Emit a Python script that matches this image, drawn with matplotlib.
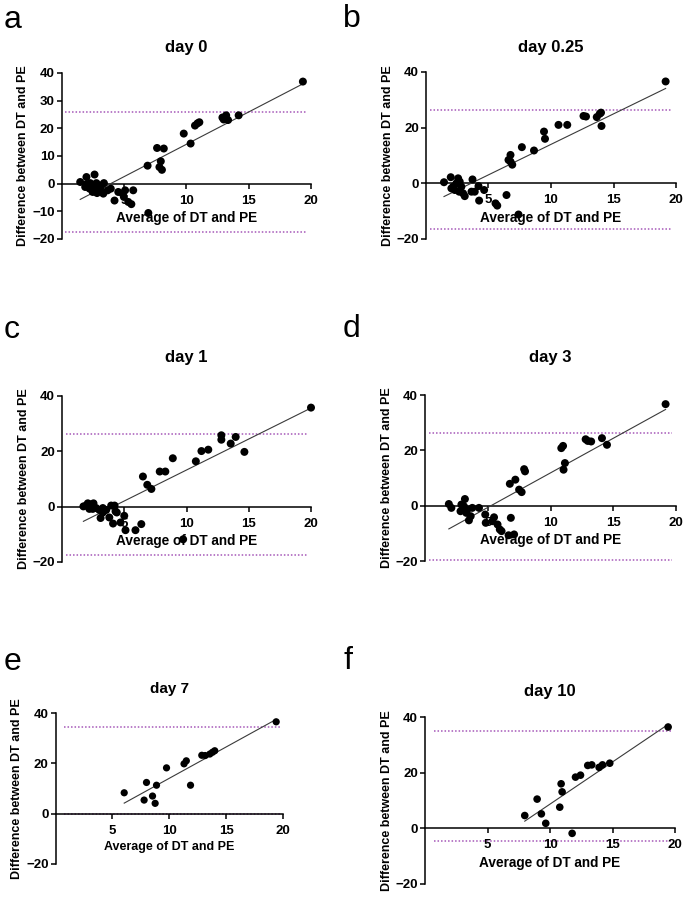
import numpy as np
import matplotlib
matplotlib.use('Agg')
from matplotlib import pyplot as plt

plt.rcParams.update({'font.family': ['Liberation Sans', 'DejaVu Sans'],
                     'font.weight': 'bold', 'font.size': 9,
                     'axes.linewidth': 1.1})

W, H = 685, 902

titles = ['day 0', 'day 0.25', 'day 1', 'day 3', 'day 7', 'day 10']
letters = ['a', 'b', 'c', 'd', 'e', 'f']

# day 0
avg_d0 = [1.5, 2.0, 2.65, 2.3, 1.9, 2.5, 2.8, 3.1, 3.4, 3.35, 3.7, 3.95, 4.25, 4.55, 5.0,
          5.1, 5.35, 5.6, 5.75, 2.85, 2.25, 3.2, 2.0, 2.6, 4.9,
          6.9, 6.96, 7.66, 8.2, 7.96, 7.85, 8.05, 9.8, 10.35, 10.7, 10.9, 11.05,
          12.9, 13.2, 13.35, 13.0, 14.2, 19.35]
diff_d0 = [0.6, 2.4, 3.3, 0.2, -1.2, -3.0, 0.2, -1.8, 0.2, -3.6, -2.4, -1.8, -6.1, -3.0, -4.8,
           -2.4, -6.6, -7.4, -2.4, -3.4, -1.8, -0.6, -0.2, -1.2, -3.6,
           6.5, -10.6, 12.9, 12.7, 8.1, 6.0, 5.0, 18.1, 14.5, 21.0, 21.8, 22.2,
           23.9, 24.7, 23.0, 23.2, 24.7, 36.9]

# day 0.25
avg_d025 = [1.44, 1.98, 2.57, 2.17, 2.43, 2.7, 2.83, 2.65, 2.97, 3.1, 2.3, 2.03, 3.72, 3.64,
            3.9, 4.2, 4.65, 4.25, 5.56, 5.7, 6.44, 7.4, 6.76, 6.6, 6.76, 6.9, 7.67, 8.64,
            9.44, 9.52, 10.6, 11.3, 12.6, 12.8, 13.66, 13.9, 14.0, 14.04, 19.17]
diff_d025 = [0.4, 2.2, 1.8, -1.2, 0.0, 0.6, -1.2, -3.0, -3.6, -4.6, -2.4, -1.8, 1.4, -3.0,
             -3.0, -1.0, -2.4, -6.2, -7.2, -8.0, -4.2, -11.2, 10.2, 8.4, 7.8, 6.7, 13.0, 11.8,
             18.6, 16.0, 21.0, 21.0, 24.2, 24.0, 23.8, 25.0, 25.4, 20.6, 36.6]

# day 1
avg_d1 = [1.72, 1.94, 2.15, 2.34, 2.53, 2.47, 2.74, 3.0, 3.28, 3.55, 3.95, 4.22, 4.3, 3.28,
          2.2, 2.07, 3.1, 3.8, 4.1, 4.7, 4.4, 5.0, 5.1, 5.9, 6.37, 9.73,
          6.5, 6.85, 7.18, 7.85, 8.3, 8.9, 10.75, 11.2, 11.75, 12.8, 12.8, 13.95, 13.55,
          14.65, 20.0]
diff_d1 = [0.1, 0.4, 1.0, -0.2, 1.2, -0.8, -0.5, -1.2, -0.5, -1.2, 0.4, 0.4, -1.7, -2.1,
           -0.8, 1.2, -4.1, -3.9, -6.1, -5.7, -2.1, -3.3, -8.5, -8.5, -6.3, -11.8,
           10.9, 7.9, 6.4, 12.7, 12.7, 17.5, 16.4, 20.1, 20.6, 25.8, 24.2, 25.2, 22.8,
           19.8, 35.8]

# day 3
avg_d3 = [1.9, 2.1, 2.9, 3.1, 3.18, 3.37, 2.83, 3.29, 3.77, 3.64, 3.5, 4.3, 4.8, 4.84, 5.5,
          5.37, 5.78, 5.96, 6.1, 6.66, 7.1, 6.84, 6.76, 7.2, 7.5, 7.7, 7.9, 7.97, 10.86,
          11.0, 11.15, 11.04, 12.8, 12.97, 13.24, 14.1, 14.5, 19.17]
diff_d3 = [0.6, -0.8, 0.4, -0.2, 2.4, -1.4, -2.0, -2.6, -0.8, -3.8, -5.3, -0.8, -3.2, -6.2,
           -4.2, -5.6, -6.8, -8.6, -9.2, -10.7, -10.4, -4.4, 7.9, 9.4, 5.8, 4.9, 13.2, 12.4,
           20.8, 21.6, 15.4, 13.0, 24.0, 23.4, 23.2, 24.4, 22.0, 36.7]

# day 7
avg_d7 = [6.04, 8.0, 7.79, 8.53, 8.76, 8.88, 9.76, 11.3, 11.5, 11.87, 12.86, 13.16, 13.57,
          13.8, 14.0, 19.4]
diff_d7 = [8.3, 12.4, 5.4, 7.0, 4.1, 11.3, 18.2, 19.8, 21.0, 11.3, 23.2, 23.1, 23.7, 24.4,
           25.0, 36.5]

# day 10
avg_d10 = [7.98, 8.97, 9.31, 9.66, 10.78, 10.89, 10.97, 11.77, 12.04, 12.44, 13.02, 13.34,
           13.93, 14.2, 14.78, 19.45]
diff_d10 = [4.6, 10.5, 5.2, 1.8, 7.6, 16.0, 13.1, -1.8, 18.4, 19.1, 22.6, 22.8, 21.9, 22.8,
            23.4, 36.4]

avgs = [avg_d0, avg_d025, avg_d1, avg_d3, avg_d7, avg_d10]
diffs = [diff_d0, diff_d025, diff_d1, diff_d3, diff_d7, diff_d10]

upper_loa = [26.0, 26.3, 26.2, 26.3, 34.5, 35.0]
lower_loa = [-17.3, -16.3, -17.3, -19.6, -0.3, -4.6]
fit_slope = [2.34, 2.19, 2.24, 2.50, 2.49, 3.03]
fit_icpt = [-9.2, -7.9, -9.15, -13.15, -10.85, -21.6]

y_ticks = [[-20, -10, 0, 10, 20, 30, 40]] + [[-20, 0, 20, 40]] * 5
x_ticks = [5, 10, 15, 20]

# layout in pixels: left, right, top, bottom of the data box
boxes = [(61.5, 311, 73, 239), (426, 676, 72, 239),
         (62, 311, 396, 562), (425, 676, 395, 561),
         (55.5, 283, 713, 864), (425, 675, 717, 884)]
title_base = [52, 52, 362, 362, 693, 696]
letter_pos = [(4, 28), (343, 27), (4, 338), (343, 337), (4, 670), (343, 669)]
loa_start = [0.3, 0.3, 0.3, 0.3, 0.75, 0.75]
dot_size = [33, 33, 33, 33, 27, 30]
title_fs = [12, 12, 12, 12, 11, 12]
xlab_fs = [9.8, 9.8, 9.8, 9.8, 9, 9.8]
purple = '#a557b8'

fig = plt.figure(figsize=(W / 100, H / 100), dpi=100)

for i in range(6):
    l, r, t, b = boxes[i]
    ax = fig.add_axes([l / W, 1 - b / H, (r - l) / W, (b - t) / H])
    ax.set_xlim(0, 20)
    ax.set_ylim(-20, 40)
    for s in ['top', 'right']:
        ax.spines[s].set_visible(False)
    ax.spines['bottom'].set_position(('data', 0))
    ax.spines['bottom'].set_zorder(2)

    x = np.array(avgs[i])
    y = np.array(diffs[i])
    xs = np.array([x.min(), x.max()])
    ax.plot(xs, fit_slope[i] * xs + fit_icpt[i], color='#3a3a3a', lw=0.8, zorder=4,
            clip_on=False)
    ax.hlines([upper_loa[i], lower_loa[i]], loa_start[i], 19.7, colors=purple,
              linestyles=(0, (1, 1.3)), lw=1.1, zorder=1)
    ax.scatter(x, y, s=dot_size[i], color='black', edgecolors='none', zorder=5,
               clip_on=False)

    ax.set_xticks(x_ticks)
    ax.set_yticks(y_ticks[i])
    ax.tick_params(axis='both', length=3.5, width=1.1, labelsize=9.5, pad=1.5)
    ax.tick_params(axis='x', pad=4.5)
    ax.set_xlabel('Average of DT and PE', fontsize=xlab_fs[i], fontweight='bold',
                  labelpad=3)
    ax.set_ylabel('Difference between DT and PE', fontsize=9, fontweight='bold',
                  labelpad=2)
    for lab in ax.get_xticklabels() + ax.get_yticklabels():
        lab.set_fontweight('bold')

    fig.text((l + r) / 2 / W, 1 - title_base[i] / H, titles[i], ha='center',
             va='baseline', fontsize=title_fs[i], fontweight='bold')
    lx, ly = letter_pos[i]
    fig.text(lx / W, 1 - ly / H, letters[i], ha='left', va='baseline',
             fontsize=23, fontweight='normal')

fig.savefig('out.png', dpi=100)
